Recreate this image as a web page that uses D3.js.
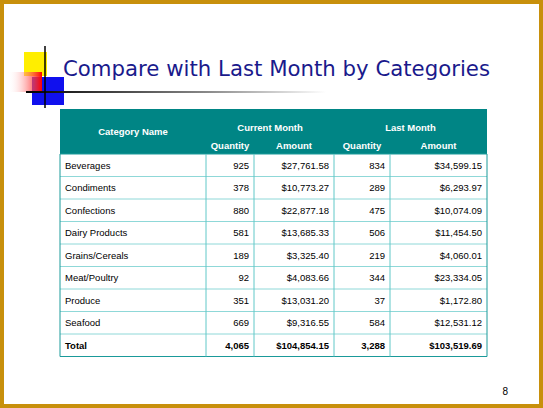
<!DOCTYPE html>
<html><head><meta charset="utf-8">
<script src="https://cdn.jsdelivr.net/npm/d3@7"></script>
<style>body{margin:0;background:#fff}</style>
</head><body>
<script>
// table data
var categories = ["Beverages","Condiments","Confections","Dairy Products","Grains/Cereals","Meat/Poultry","Produce","Seafood"];
var curQty = [925,378,880,581,189,92,351,669];
var curAmt = ["$27,761.58","$10,773.27","$22,877.18","$13,685.33","$3,325.40","$4,083.66","$13,031.20","$9,316.55"];
var lastQty = [834,289,475,506,219,344,37,584];
var lastAmt = ["$34,599.15","$6,293.97","$10,074.09","$11,454.50","$4,060.01","$23,334.05","$1,172.80","$12,531.12"];
var totals = ["Total","4,065","$104,854.15","3,288","$103,519.69"];
var colEdges = [60,206,254,334,390,487];

var width = 543, height = 408;
var svg = d3.select("body").append("svg").attr("width", width).attr("height", height);

// gold frame
svg.append("rect").attr("x",2).attr("y",2).attr("width",width-4).attr("height",height-4)
  .attr("fill","none").attr("stroke","#c8900c").attr("stroke-width",4);

var defs = svg.append("defs");
var rg = defs.append("linearGradient").attr("id","rg");
rg.append("stop").attr("offset","0").attr("stop-color","#fff").attr("stop-opacity",0);
rg.append("stop").attr("offset","1").attr("stop-color","#ff0000");
var lg = defs.append("linearGradient").attr("id","lg");
lg.append("stop").attr("offset","0").attr("stop-color","#000");
lg.append("stop").attr("offset","0.6").attr("stop-color","#888");
lg.append("stop").attr("offset","1").attr("stop-color","#fff");

// logo
svg.append("rect").attr("x",24).attr("y",52).attr("width",23).attr("height",24).attr("fill","#ffee00");
svg.append("rect").attr("x",32).attr("y",77).attr("width",32).attr("height",28).attr("fill","#1010ee");
svg.append("rect").attr("x",8).attr("y",72).attr("width",34).attr("height",20).attr("fill","url(#rg)");
svg.append("rect").attr("x",26).attr("y",91).attr("width",300).attr("height",2).attr("fill","url(#lg)");
svg.append("line").attr("x1",45).attr("x2",45).attr("y1",46).attr("y2",108).attr("stroke","#000").attr("stroke-width",1.5);

svg.append("text").attr("x",63).attr("y",76).text("Compare with Last Month by Categories")
  .attr("font-family","DejaVu Sans").attr("font-size",22).attr("fill","#1a1a8c")
  .attr("textLength",427).attr("lengthAdjust","spacingAndGlyphs");

// table
var rowH = 22.5, bodyTop = 154;
var y = d3.scaleLinear().domain([0,1]).range([bodyTop, bodyTop+rowH]);
var font = "Liberation Sans";

svg.append("rect").attr("x",60).attr("y",109).attr("width",427).attr("height",45).attr("fill","#008585");
var hdr = [
  {t:"Category Name", x:(colEdges[0]+colEdges[1])/2, y:135},
  {t:"Current Month", x:(colEdges[1]+colEdges[3])/2, y:131},
  {t:"Last Month", x:(colEdges[3]+colEdges[5])/2, y:131},
  {t:"Quantity", x:(colEdges[1]+colEdges[2])/2, y:149},
  {t:"Amount", x:(colEdges[2]+colEdges[3])/2, y:149},
  {t:"Quantity", x:(colEdges[3]+colEdges[4])/2, y:149},
  {t:"Amount", x:(colEdges[4]+colEdges[5])/2, y:149}
];
svg.selectAll(".hdr").data(hdr).enter().append("text")
  .attr("x",d=>d.x).attr("y",d=>d.y).attr("text-anchor","middle").text(d=>d.t)
  .attr("font-family",font).attr("font-weight","bold").attr("font-size",9.5).attr("fill","#fff");

var rows = categories.map((c,i)=>[c, curQty[i], curAmt[i], lastQty[i], lastAmt[i]]);
rows.push(totals);
var nRows = rows.length;

// grid lines
svg.selectAll(".hl").data(d3.range(nRows+1)).enter().append("line")
  .attr("x1",60).attr("x2",487).attr("y1",d=>y(d)).attr("y2",d=>y(d))
  .attr("stroke",(d)=>d===0||d===nRows?"#1a9a9a":"#8fd8d8").attr("stroke-width",1);
svg.selectAll(".vl").data(colEdges).enter().append("line")
  .attr("x1",d=>d).attr("x2",d=>d).attr("y1",bodyTop).attr("y2",y(nRows))
  .attr("stroke",(d,i)=>i===0||i===5?"#1a9a9a":"#60c8c8").attr("stroke-width",1);

var g = svg.selectAll(".row").data(rows).enter().append("g")
  .attr("transform",(d,i)=>"translate(0,"+(y(i)+rowH/2+3.5)+")");
g.selectAll("text").data((d,i)=>d.map(v=>({v:v,bold:i===nRows-1}))).enter().append("text")
  .attr("x",(d,j)=>j===0?colEdges[0]+5:colEdges[j+1]-5)
  .attr("text-anchor",(d,j)=>j===0?"start":"end")
  .text(d=>d.v)
  .attr("font-family",font).attr("font-size",9.5)
  .attr("font-weight",d=>d.bold?"bold":"normal").attr("fill","#000");

svg.append("text").attr("x",508).attr("y",395).attr("text-anchor","end").text("8")
  .attr("font-family",font).attr("font-size",10).attr("fill","#000");
</script>
</body></html>
